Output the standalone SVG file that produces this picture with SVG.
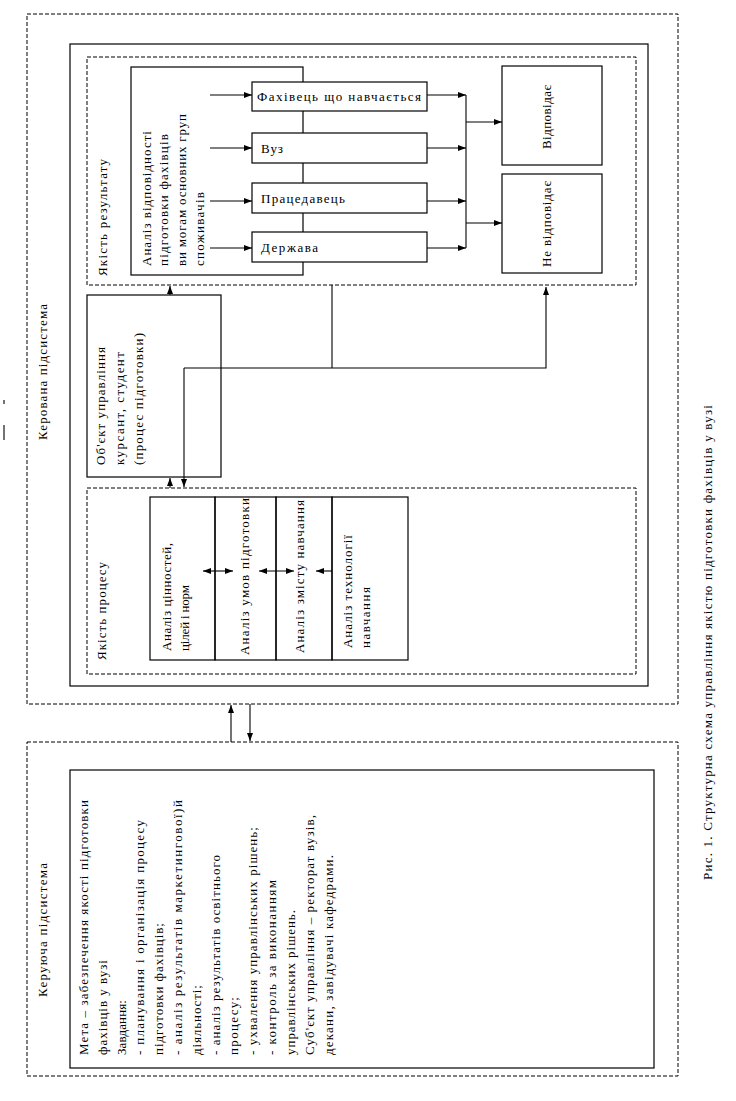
<svg xmlns="http://www.w3.org/2000/svg" width="736" height="1101" viewBox="0 0 736 1101">
<defs>
<style>
.t{font-family:"Liberation Serif","DejaVu Serif",serif;font-size:13px;fill:#000}
.d{fill:none;stroke:#000;stroke-width:1;stroke-dasharray:4 2}
.s{fill:#fff;stroke:#000;stroke-width:1.2}
.n{fill:none;stroke:#000;stroke-width:1.2}
.c{fill:none;stroke:#000;stroke-width:1.1}
</style>
<marker id="ah" viewBox="0 0 8 6" refX="8" refY="3" markerWidth="8" markerHeight="6" markerUnits="userSpaceOnUse" orient="auto-start-reverse">
<path d="M0,0 L8,3 L0,6 z" fill="#000"/>
</marker>
</defs>
<rect width="736" height="1101" fill="#fff"/>

<g id="marks">
<line x1="4" y1="400" x2="4" y2="404" class="c"/>
<line x1="4" y1="425" x2="4" y2="440" class="c"/>
</g>

<g id="kerovana">
<rect x="27" y="14" width="651" height="690" class="d"/>
<text class="t" transform="translate(47,440) rotate(-90)" textLength="136" lengthAdjust="spacing">Керована підсистема</text>
<rect x="70" y="44" width="578" height="642" class="n"/>
</g>

<g id="result">
<rect x="87" y="57" width="549" height="228" class="d"/>
<text class="t" transform="translate(107,276) rotate(-90)" textLength="117" lengthAdjust="spacing">Якість результату</text>
</g>

<g id="analysis">
<rect x="131" y="67" width="172" height="208" class="n"/>
<text class="t" transform="translate(151,266) rotate(-90)" textLength="135" lengthAdjust="spacing">Аналіз відповідності</text>
<text class="t" transform="translate(168,266) rotate(-90)" textLength="132" lengthAdjust="spacing">підготовки фахівців</text>
<text class="t" transform="translate(186,266) rotate(-90)" textLength="152" lengthAdjust="spacing">ви могам основних груп</text>
<text class="t" transform="translate(204,266) rotate(-90)" textLength="74" lengthAdjust="spacing">споживачів</text>
</g>

<g id="fakhivets">
<rect x="252" y="82" width="175" height="29" class="s"/>
<text class="t" x="257" y="101" textLength="164" lengthAdjust="spacing">Фахівець що навчається</text>
</g>
<g id="vuz">
<rect x="252" y="133" width="175" height="30" class="s"/>
<text class="t" x="261" y="152.5" textLength="22" lengthAdjust="spacing">Вуз</text>
</g>
<g id="pratsedavets">
<rect x="252" y="183" width="175" height="30" class="s"/>
<text class="t" x="261" y="202.5" textLength="84" lengthAdjust="spacing">Працедавець</text>
</g>
<g id="derzhava">
<rect x="252" y="232" width="175" height="30" class="s"/>
<text class="t" x="261" y="251.5" textLength="57" lengthAdjust="spacing">Держава</text>
</g>

<g id="vidpovidaie">
<rect x="502" y="66" width="100" height="99" class="s"/>
<text class="t" transform="translate(551,149) rotate(-90)" textLength="64" lengthAdjust="spacing">Відповідає</text>
</g>
<g id="ne-vidpovidaie">
<rect x="502" y="174" width="100" height="99" class="s"/>
<text class="t" transform="translate(551,267) rotate(-90)" textLength="86" lengthAdjust="spacing">Не відповідає</text>
</g>

<g id="object">
<rect x="87" y="295" width="134" height="182" class="s"/>
<text class="t" transform="translate(105,465) rotate(-90)" textLength="118" lengthAdjust="spacing">Об'єкт управління</text>
<text class="t" transform="translate(124,465) rotate(-90)" textLength="113" lengthAdjust="spacing">курсант, студент</text>
<text class="t" transform="translate(143,465) rotate(-90)" textLength="132" lengthAdjust="spacing">(процес підготовки)</text>
</g>

<g id="process">
<rect x="87" y="488" width="549" height="186" class="d"/>
<text class="t" transform="translate(106,660) rotate(-90)" textLength="98" lengthAdjust="spacing">Якість процесу</text>
</g>
<g id="p-values">
<rect x="150" y="497" width="65" height="163" class="n"/>
<text class="t" transform="translate(171,651) rotate(-90)" textLength="108" lengthAdjust="spacing">Аналіз цінностей,</text>
<text class="t" transform="translate(189,651) rotate(-90)" textLength="66" lengthAdjust="spacing">цілей і норм</text>
</g>
<g id="p-conditions">
<rect x="215" y="497" width="61" height="163" class="n"/>
<text class="t" transform="translate(248.5,655) rotate(-90)" textLength="157" lengthAdjust="spacing">Аналіз умов підготовки</text>
</g>
<g id="p-content">
<rect x="276" y="497" width="56" height="163" class="n"/>
<text class="t" transform="translate(304,653) rotate(-90)" textLength="153" lengthAdjust="spacing">Аналіз змісту навчання</text>
</g>
<g id="p-technology">
<rect x="332" y="497" width="76" height="163" class="n"/>
<text class="t" transform="translate(352,648) rotate(-90)" textLength="113" lengthAdjust="spacing">Аналіз технології</text>
<text class="t" transform="translate(370,648) rotate(-90)" textLength="61" lengthAdjust="spacing">навчання</text>
</g>

<g id="keruiucha">
<rect x="27" y="742" width="651" height="334" class="d"/>
<text class="t" transform="translate(47,997) rotate(-90)" textLength="134" lengthAdjust="spacing">Керуюча підсистема</text>
<rect x="70" y="770" width="584" height="298" class="n"/>
<text class="t" transform="translate(88,1055) rotate(-90)" textLength="255" lengthAdjust="spacing">Мета – забезпечення якості підготовки</text>
<text class="t" transform="translate(107,1055) rotate(-90)" textLength="95" lengthAdjust="spacing">фахівців у вузі</text>
<text class="t" transform="translate(126,1055) rotate(-90)" textLength="55" lengthAdjust="spacing">Завдання:</text>
<text class="t" transform="translate(144,1055) rotate(-90)" textLength="235" lengthAdjust="spacing">- планування і організація процесу</text>
<text class="t" transform="translate(163,1055) rotate(-90)" textLength="132" lengthAdjust="spacing">підготовки фахівців;</text>
<text class="t" transform="translate(182,1055) rotate(-90)" textLength="255" lengthAdjust="spacing">-   аналіз результатів маркетингової)й</text>
<text class="t" transform="translate(201,1055) rotate(-90)" textLength="70" lengthAdjust="spacing">діяльності;</text>
<text class="t" transform="translate(220,1055) rotate(-90)" textLength="200" lengthAdjust="spacing">- аналіз результатів освітнього</text>
<text class="t" transform="translate(238,1055) rotate(-90)" textLength="58" lengthAdjust="spacing">процесу;</text>
<text class="t" transform="translate(257,1055) rotate(-90)" textLength="228" lengthAdjust="spacing">- ухвалення управлінських рішень;</text>
<text class="t" transform="translate(276,1055) rotate(-90)" textLength="175" lengthAdjust="spacing">- контроль за виконанням</text>
<text class="t" transform="translate(295,1055) rotate(-90)" textLength="145" lengthAdjust="spacing">управлінських рішень.</text>
<text class="t" transform="translate(314,1055) rotate(-90)" textLength="240" lengthAdjust="spacing">Суб'єкт управління – ректорат вузів,</text>
<text class="t" transform="translate(333,1055) rotate(-90)" textLength="200" lengthAdjust="spacing">декани, завідувачі кафедрами.</text>
</g>

<g id="caption">
<text class="t" transform="translate(712,880) rotate(-90)" textLength="475" lengthAdjust="spacing">Рис. 1. Структурна  схема управління  якістю підготовки фахівців у вузі</text>
</g>

<g id="connectors">
<line x1="210" y1="95" x2="252" y2="95" class="c" marker-end="url(#ah)"/>
<line x1="210" y1="148" x2="252" y2="148" class="c" marker-end="url(#ah)"/>
<line x1="210" y1="201" x2="252" y2="201" class="c" marker-end="url(#ah)"/>
<line x1="210" y1="248" x2="252" y2="248" class="c" marker-end="url(#ah)"/>
<line x1="427" y1="95" x2="466" y2="95" class="c" marker-end="url(#ah)"/>
<line x1="427" y1="148" x2="466" y2="148" class="c" marker-end="url(#ah)"/>
<line x1="427" y1="201" x2="466" y2="201" class="c" marker-end="url(#ah)"/>
<line x1="427" y1="248" x2="466" y2="248" class="c" marker-end="url(#ah)"/>
<line x1="466" y1="95" x2="466" y2="248" class="c"/>
<line x1="466" y1="122" x2="502" y2="122" class="c" marker-end="url(#ah)"/>
<line x1="466" y1="223" x2="502" y2="223" class="c" marker-end="url(#ah)"/>
<line x1="170" y1="295" x2="170" y2="286" class="c" marker-end="url(#ah)"/>
<line x1="332" y1="285" x2="332" y2="368" class="c"/>
<polyline points="184,368 546,368 546,287" class="c" marker-end="url(#ah)"/>
<line x1="184" y1="368" x2="184" y2="487" class="c" marker-end="url(#ah)"/>
<line x1="170" y1="488" x2="170" y2="478" class="c" marker-end="url(#ah)"/>
<line x1="203" y1="571" x2="233" y2="571" class="c" marker-start="url(#ah)" marker-end="url(#ah)"/>
<line x1="259" y1="571" x2="294" y2="571" class="c" marker-start="url(#ah)" marker-end="url(#ah)"/>
<line x1="332" y1="571" x2="316" y2="571" class="c" marker-end="url(#ah)"/>
<line x1="231" y1="742" x2="231" y2="705" class="c" marker-end="url(#ah)"/>
<line x1="250" y1="704" x2="250" y2="741" class="c" marker-end="url(#ah)"/>
</g>
</svg>
